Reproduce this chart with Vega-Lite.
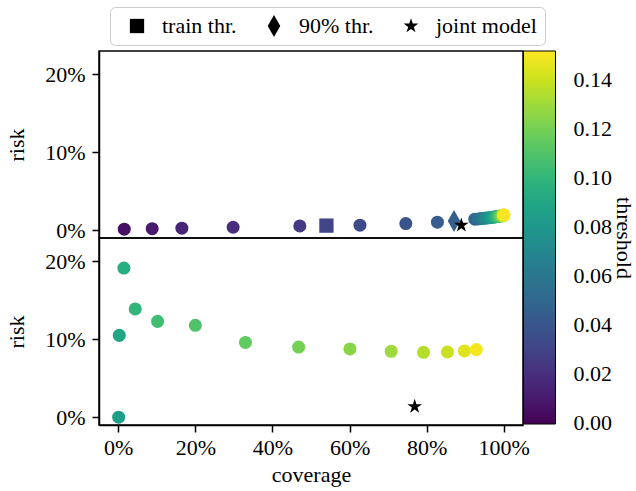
{
  "$schema": "https://vega.github.io/schema/vega-lite/v6.json",
  "padding": {"left": 4, "top": 6, "right": 4, "bottom": 4},
  "background": "white",
  "bounds": "flush",
  "config": {
    "font": "Liberation Serif",
    "view": {"stroke": "black", "strokeWidth": 1.5},
    "axis": {"labelFont": "Liberation Serif", "labelFontSize": 22, "labelColor": "black", "titleFont": "Liberation Serif", "titleFontSize": 22, "titleFontWeight": "normal", "titleColor": "black", "domainColor": "black", "domainWidth": 1.5, "tickColor": "black", "tickWidth": 1.5, "tickSize": 7, "grid": false, "labelPadding": 7},
    "legend": {"labelFont": "Liberation Serif", "labelFontSize": 22, "labelColor": "black", "titleFont": "Liberation Serif", "titleFontSize": 22, "titleFontWeight": "normal", "titleColor": "black"}
  },
  "datasets": {
    "top": [
      {"coverage": 0.0155, "risk": 0.0013, "threshold": 0.005},
      {"coverage": 0.088, "risk": 0.0020, "threshold": 0.01},
      {"coverage": 0.165, "risk": 0.0026, "threshold": 0.015},
      {"coverage": 0.298, "risk": 0.0038, "threshold": 0.02},
      {"coverage": 0.471, "risk": 0.0055, "threshold": 0.025},
      {"coverage": 0.627, "risk": 0.0064, "threshold": 0.033},
      {"coverage": 0.746, "risk": 0.0085, "threshold": 0.038},
      {"coverage": 0.828, "risk": 0.0103, "threshold": 0.043},
      {"coverage": 0.925, "risk": 0.0141, "threshold": 0.05},
      {"coverage": 0.934, "risk": 0.0145, "threshold": 0.055},
      {"coverage": 0.942, "risk": 0.0149, "threshold": 0.06},
      {"coverage": 0.949, "risk": 0.0153, "threshold": 0.065},
      {"coverage": 0.955, "risk": 0.0156, "threshold": 0.07},
      {"coverage": 0.961, "risk": 0.0160, "threshold": 0.075},
      {"coverage": 0.966, "risk": 0.0163, "threshold": 0.08},
      {"coverage": 0.971, "risk": 0.0166, "threshold": 0.085},
      {"coverage": 0.975, "risk": 0.0169, "threshold": 0.09},
      {"coverage": 0.979, "risk": 0.0172, "threshold": 0.095},
      {"coverage": 0.983, "risk": 0.0175, "threshold": 0.1},
      {"coverage": 0.986, "risk": 0.0177, "threshold": 0.105},
      {"coverage": 0.989, "risk": 0.0180, "threshold": 0.11},
      {"coverage": 0.992, "risk": 0.0182, "threshold": 0.115},
      {"coverage": 0.994, "risk": 0.0184, "threshold": 0.12},
      {"coverage": 0.996, "risk": 0.0186, "threshold": 0.125},
      {"coverage": 0.998, "risk": 0.0188, "threshold": 0.13},
      {"coverage": 0.999, "risk": 0.0190, "threshold": 0.135},
      {"coverage": 1.0, "risk": 0.0192, "threshold": 0.14},
      {"coverage": 1.0, "risk": 0.0194, "threshold": 0.145},
      {"coverage": 1.0, "risk": 0.0196, "threshold": 0.15}
    ],
    "bottom": [
      {"coverage": 0.001, "risk": 0.0, "threshold": 0.085},
      {"coverage": 0.0026, "risk": 0.105, "threshold": 0.09},
      {"coverage": 0.0146, "risk": 0.1914, "threshold": 0.095},
      {"coverage": 0.044, "risk": 0.139, "threshold": 0.1},
      {"coverage": 0.102, "risk": 0.123, "threshold": 0.105},
      {"coverage": 0.2, "risk": 0.118, "threshold": 0.11},
      {"coverage": 0.33, "risk": 0.096, "threshold": 0.115},
      {"coverage": 0.468, "risk": 0.09, "threshold": 0.12},
      {"coverage": 0.601, "risk": 0.0876, "threshold": 0.125},
      {"coverage": 0.708, "risk": 0.0846, "threshold": 0.13},
      {"coverage": 0.792, "risk": 0.0833, "threshold": 0.135},
      {"coverage": 0.854, "risk": 0.0837, "threshold": 0.14},
      {"coverage": 0.898, "risk": 0.085, "threshold": 0.145},
      {"coverage": 0.929, "risk": 0.0868, "threshold": 0.15}
    ],
    "markersTop": [
      {"coverage": 0.54, "risk": 0.0059, "threshold": 0.03, "kind": "train thr."},
      {"coverage": 0.871, "risk": 0.0119, "threshold": 0.045, "kind": "90% thr."}
    ],
    "starTop": [
      {"coverage": 0.89, "risk": 0.0064, "kind": "joint model"}
    ],
    "starBottom": [
      {"coverage": 0.769, "risk": 0.0137, "kind": "joint model"}
    ]
  },
  "spacing": 0,
  "resolve": {"scale": {"color": "shared", "shape": "shared"}, "legend": {"color": "shared", "shape": "shared"}},
  "vconcat": [
    {
      "width": 424,
      "height": 187,
      "layer": [
        {
          "data": {"name": "top"},
          "mark": {"type": "point", "filled": true, "shape": "circle", "size": 170, "opacity": 1},
          "encoding": {
            "x": {"field": "coverage", "type": "quantitative", "scale": {"domain": [-0.05, 1.05], "nice": false, "zero": false}, "axis": null},
            "y": {"field": "risk", "type": "quantitative", "scale": {"domain": [-0.01, 0.23], "nice": false, "zero": false}, "axis": {"values": [0, 0.1, 0.2], "format": ".0%", "title": "risk", "titlePadding": 16}},
            "color": {"field": "threshold", "type": "quantitative", "scale": {"scheme": "viridis", "domain": [-0.0005, 0.152]}, "legend": {"orient": "none", "legendX": 424.5, "legendY": 0, "direction": "vertical", "gradientLength": 373, "gradientThickness": 32, "values": [0, 0.02, 0.04, 0.06, 0.08, 0.1, 0.12, 0.14], "format": ".2f", "title": "threshold", "titleOrient": "right", "titleAnchor": "middle", "titlePadding": -1, "labelOffset": 18, "labelOverlap": false, "gradientStrokeColor": "black", "gradientStrokeWidth": 1, "padding": 0, "encode": {"title": {"update": {"angle": {"value": -90}}}}}}
          }
        },
        {
          "data": {"name": "markersTop"},
          "mark": {"type": "point", "filled": true, "size": 484, "opacity": 1},
          "encoding": {
            "x": {"field": "coverage", "type": "quantitative"},
            "y": {"field": "risk", "type": "quantitative"},
            "color": {"field": "threshold", "type": "quantitative"},
            "shape": {"field": "kind", "type": "nominal", "scale": {"domain": ["train thr.", "90% thr.", "joint model"], "range": ["M-0.65,-0.65L0.65,-0.65L0.65,0.65L-0.65,0.65Z", "M0,-1L0.57,0L0,1L-0.57,0Z", "M0,-0.7L0.157,-0.216L0.666,-0.216L0.254,0.082L0.411,0.566L0,0.267L-0.411,0.566L-0.254,0.082L-0.666,-0.216L-0.157,-0.216Z"]}, "legend": {"orient": "none", "legendX": 11, "legendY": -44, "direction": "horizontal", "title": null, "symbolSize": 484, "symbolOffset": 8, "labelOffset": 14, "columnPadding": 18, "padding": 8, "strokeColor": "#cccccc", "cornerRadius": 5, "fillColor": "white", "symbolFillColor": "black", "symbolStrokeColor": "black", "symbolStrokeWidth": 0, "labelLimit": 0, "symbolOpacity": 1}}
          }
        },
        {
          "data": {"name": "starTop"},
          "mark": {"type": "point", "filled": true, "size": 484, "opacity": 1, "color": "black"},
          "encoding": {
            "x": {"field": "coverage", "type": "quantitative"},
            "y": {"field": "risk", "type": "quantitative"},
            "shape": {"field": "kind", "type": "nominal"}
          }
        }
      ]
    },
    {
      "width": 424,
      "height": 187,
      "layer": [
        {
          "data": {"name": "bottom"},
          "mark": {"type": "point", "filled": true, "shape": "circle", "size": 170, "opacity": 1},
          "encoding": {
            "x": {"field": "coverage", "type": "quantitative", "scale": {"domain": [-0.05, 1.05], "nice": false, "zero": false}, "axis": {"values": [0, 0.2, 0.4, 0.6, 0.8, 1.0], "format": ".0%", "title": "coverage", "labelPadding": 5, "titlePadding": 6}},
            "y": {"field": "risk", "type": "quantitative", "scale": {"domain": [-0.01, 0.23], "nice": false, "zero": false}, "axis": {"values": [0, 0.1, 0.2], "format": ".0%", "title": "risk", "titlePadding": 16}},
            "color": {"field": "threshold", "type": "quantitative"}
          }
        },
        {
          "data": {"name": "starBottom"},
          "mark": {"type": "point", "filled": true, "size": 484, "opacity": 1, "color": "black"},
          "encoding": {
            "x": {"field": "coverage", "type": "quantitative"},
            "y": {"field": "risk", "type": "quantitative"},
            "shape": {"field": "kind", "type": "nominal"}
          }
        }
      ]
    }
  ]
}
